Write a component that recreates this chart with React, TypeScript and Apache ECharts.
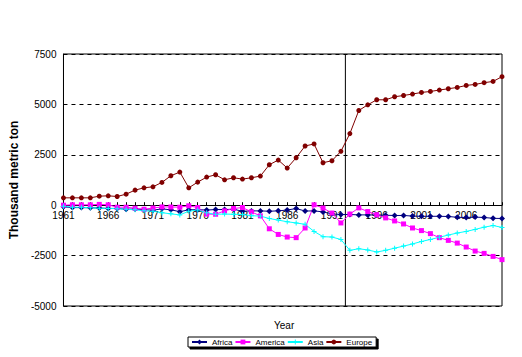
import React, { useEffect, useRef } from "react";
import * as echarts from "echarts";

const years: string[] = [];
for (let y = 1961; y <= 2010; y++) years.push(String(y));

const africa = [
  -80, -120, -120, -130, -140, -160, -160, -200, -190, -220,
  -250, -180, -230, -320, -230, -220, -240, -216, -216, -200,
  -300, -282, -282, -300, -280, -240, -166, -290, -282, -332,
  -430, -465, -460, -480, -480, -490, -500, -510, -510, -540,
  -550, -550, -550, -560, -600, -610, -590, -610, -650, -660,
];

const america = [
  0, 20, 20, 20, 40, 20, -100, -100, -150, -200,
  -140, -85, -90, -100, -30, -115, -440, -450, -280, -165,
  -115, -330, -530, -1170, -1450, -1580, -1610, -1130, 20, -140,
  -390, -880, -440, -133, -315, -475, -630, -780, -930, -1130,
  -1260, -1410, -1610, -1745, -1880, -2075, -2275, -2390, -2540, -2700,
];

const asia = [
  -50, -100, -100, -130, -150, -160, -170, -200, -230, -280,
  -300, -370, -430, -480, -300, -240, -380, -450, -440, -450,
  -460, -520, -540, -660, -740, -820, -880, -950, -1300, -1560,
  -1580, -1700, -2240, -2160, -2220, -2320, -2240, -2130, -2030, -1920,
  -1800, -1700, -1590, -1480, -1380, -1300, -1200, -1090, -1010, -1100,
];

const europe = [
  365, 365, 365, 365, 448, 465, 432, 548, 747, 863,
  913, 1130, 1460, 1643, 863, 1145, 1394, 1510, 1260, 1360,
  1295, 1360, 1444, 2007, 2240, 1843, 2355, 2938, 3038, 2107,
  2206, 2674, 3551, 4696, 4980, 5229, 5229, 5378, 5443, 5513,
  5593, 5642, 5712, 5777, 5841, 5941, 5991, 6076, 6140, 6374,
];

// position (category index) of the vertical divider, between 1992 and 1993
const dividerIndex = 31.5;
const yTicks = { min: -5000, max: 7500, interval: 2500 };

const FONT = "'Liberation Sans', Arial, sans-serif";
const plusPath = "path://M0,2L5,2L5,3L0,3Z M2,0L3,0L3,5L2,5Z";

const W = 522;
const H = 357;
const GRID = { left: 58, right: 20, top: 54, bottom: 51 };
// place the category axis on the value 0 of the y axis
const gridH = H - GRID.top - GRID.bottom;
const zeroOffset = -(gridH * (0 - yTicks.min)) / (yTicks.max - yTicks.min);

export default function App() {
  const ref = useRef<HTMLDivElement>(null);
  useEffect(() => {
    if (!ref.current) return;
    const chart = echarts.init(ref.current, undefined, { renderer: "svg" });
    const mk = (name: string, data: number[], color: string, symbol: string, size: number) => ({
      name,
      type: "line",
      data,
      symbol,
      symbolSize: size,
      showSymbol: true,
      showAllSymbol: true,
      lineStyle: { color, width: 1 },
      itemStyle: { color },
      z: 3,
    });
    chart.setOption({
      animation: false,
      textStyle: { fontFamily: FONT },
      title: {
        text: "Year",
        left: 269,
        top: 315,
        textStyle: { fontSize: 10, fontWeight: "normal", color: "#000", fontFamily: FONT },
      },
      grid: {
        ...GRID,
        show: true,
        borderColor: "#000",
        borderWidth: 1,
        backgroundColor: "transparent",
      },
      legend: {
        data: ["Africa", "America", "Asia", "Europe"],
        left: 188,
        top: 337,
        padding: [1, 4, 1, 3],
        itemGap: 2,
        itemWidth: 15,
        itemHeight: 6,
        borderColor: "#000",
        borderWidth: 1,
        backgroundColor: "#fff",
        shadowColor: "#000",
        shadowOffsetX: 2,
        shadowOffsetY: 2,
        shadowBlur: 0,
        textStyle: { fontSize: 8, color: "#000", fontFamily: FONT },
      },
      xAxis: [
        {
          type: "category",
          data: years,
          boundaryGap: false,
          position: "bottom",
          offset: zeroOffset,
          axisLine: { onZero: false, lineStyle: { color: "#000", width: 1 } },
          axisTick: { show: true, inside: true, length: 3, interval: 0, lineStyle: { color: "#000" } },
          axisLabel: { interval: 4, fontSize: 10, color: "#000", margin: 5, fontFamily: FONT },
          splitLine: { show: false },
        },
        {
          type: "value",
          min: 0,
          max: years.length - 1,
          show: false,
          axisLine: { onZero: false },
        },
      ],
      yAxis: {
        type: "value",
        min: yTicks.min,
        max: yTicks.max,
        interval: yTicks.interval,
        name: "Thousand metric ton",
        nameLocation: "middle",
        nameRotate: 90,
        nameGap: 35,
        nameTextStyle: { fontSize: 12, fontWeight: "bold", color: "#000", fontFamily: FONT },
        axisLine: { show: true, onZero: false, lineStyle: { color: "#000", width: 1 } },
        axisTick: { show: false },
        axisLabel: {
          fontSize: 10,
          color: "#000",
          margin: 7,
          fontFamily: FONT,
          formatter: (v: number) => String(v),
        },
        splitLine: { show: true, lineStyle: { color: "#000", type: [4, 4], width: 1 } },
      },
      series: [
        mk("Africa", africa, "#000080", "diamond", 6),
        mk("America", america, "#FF00FF", "rect", 5),
        mk("Asia", asia, "#00FFFF", plusPath, 5),
        mk("Europe", europe, "#800000", "circle", 5),
        {
          name: "divider",
          type: "line",
          xAxisIndex: 1,
          data: [
            [dividerIndex, yTicks.min],
            [dividerIndex, yTicks.max],
          ],
          symbol: "none",
          silent: true,
          lineStyle: { color: "#000", width: 1 },
          z: 2,
        },
      ],
    });
    return () => chart.dispose();
  }, []);
  return (
    <div
      ref={ref}
      style={{ position: "absolute", left: 0, top: 0, width: W, height: H, background: "#fff" }}
    />
  );
}
